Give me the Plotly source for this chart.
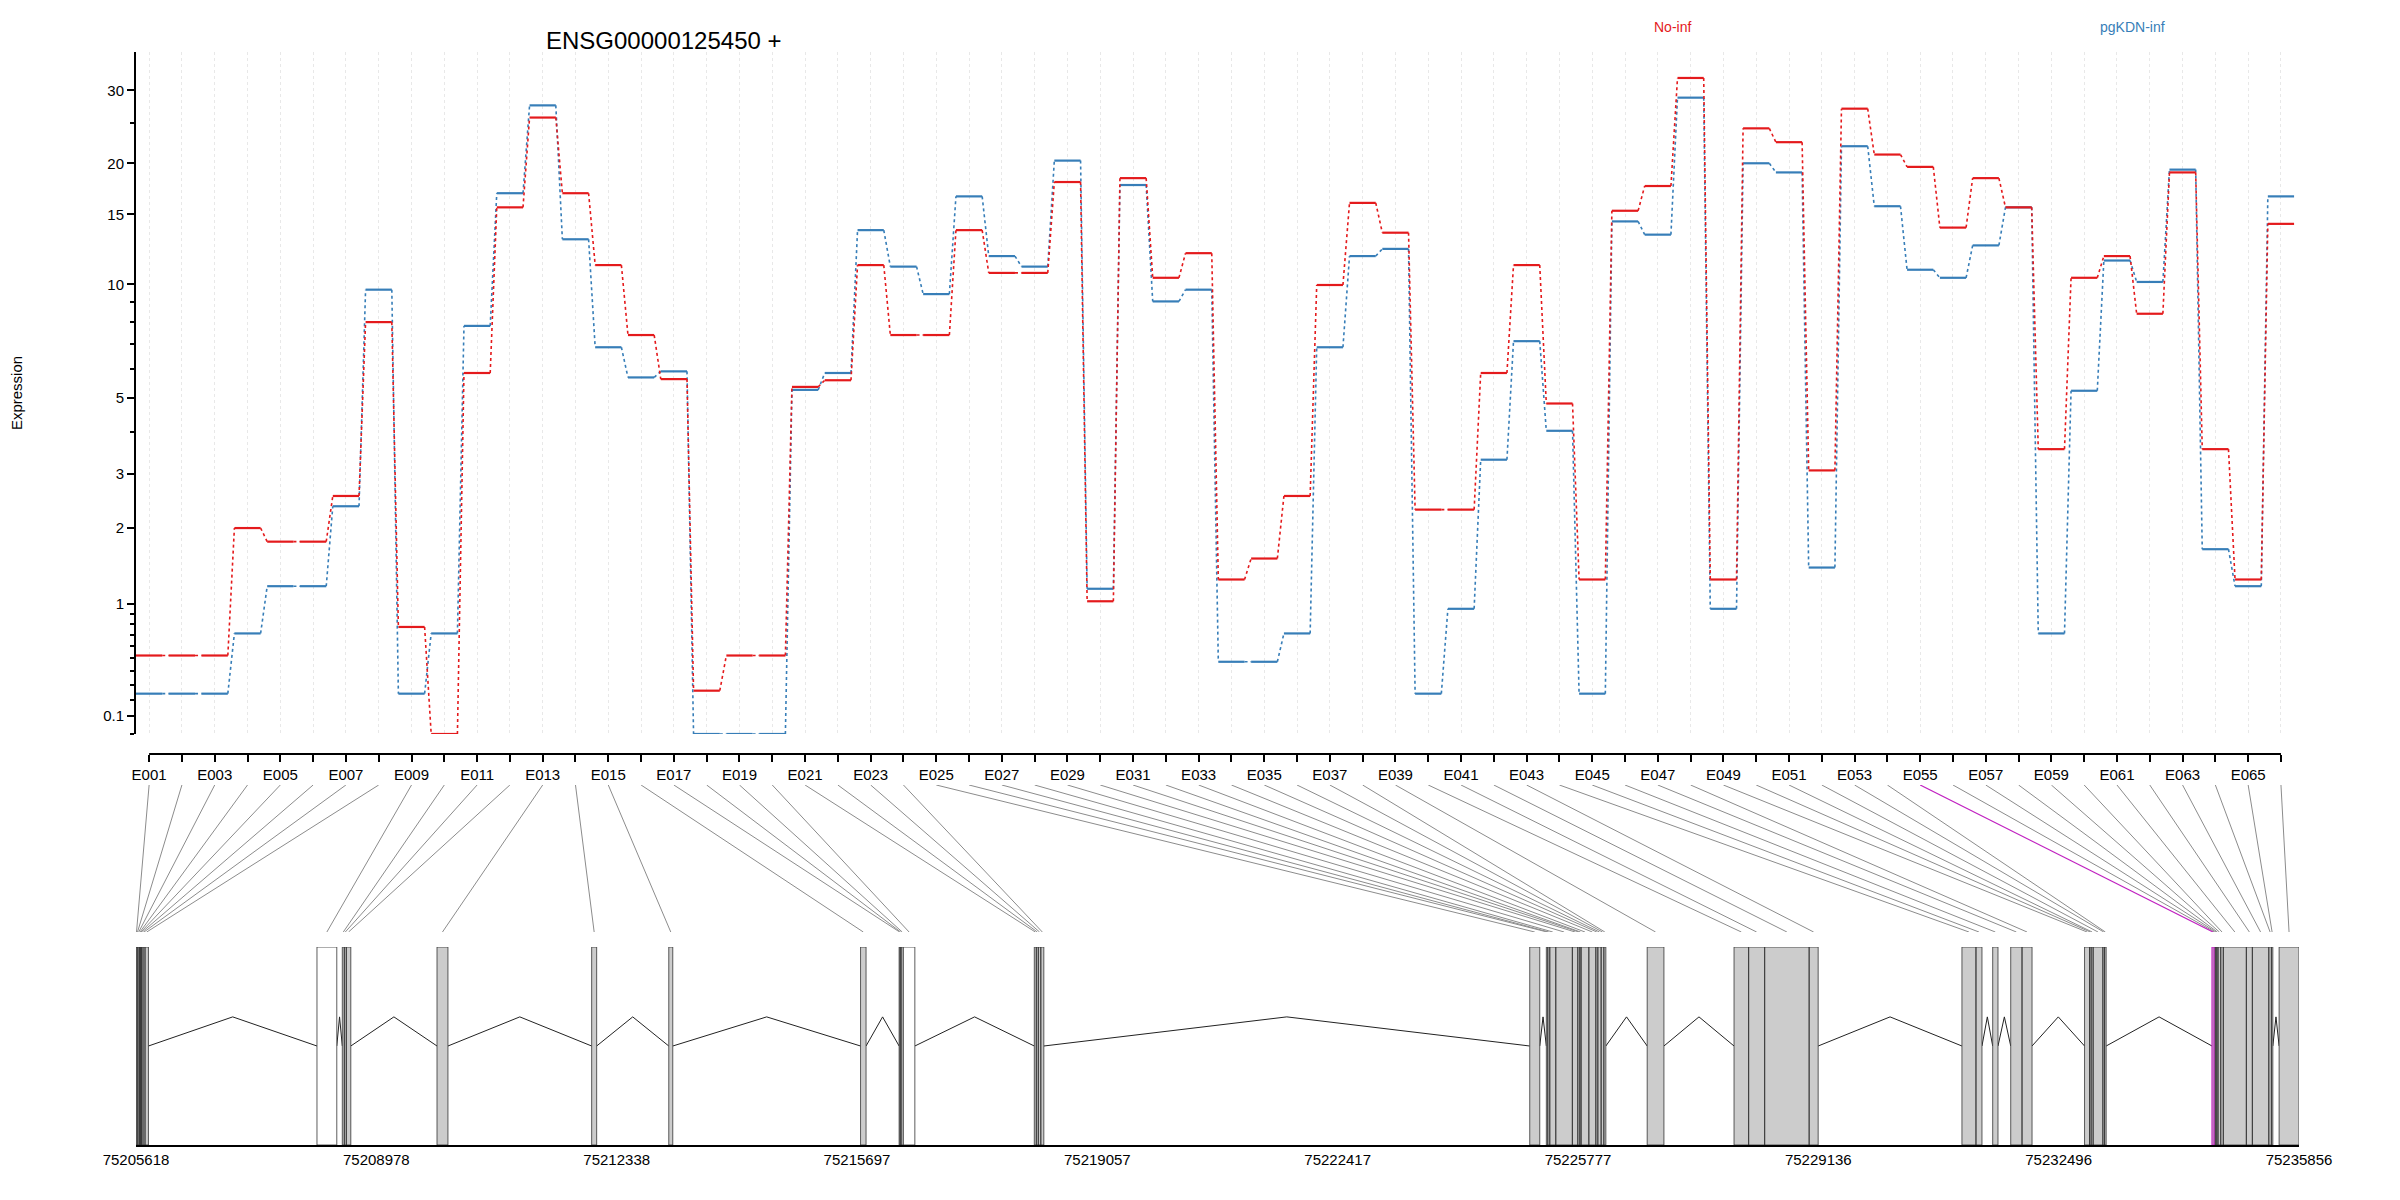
import numpy as np
import plotly.graph_objects as go

# exon ids
exons = ["E%03d" % i for i in range(1, 67)]

# expression per exon (No-inf red, pgKDN-inf blue)
no_inf = [0.52, 0.52, 0.52, 2.0, 1.79, 1.79, 2.56, 8.0, 0.77, 0.0,
          5.86, 15.6, 25.8, 16.9, 11.2, 7.4, 5.64, 0.26, 0.52, 0.52,
          5.37, 5.6, 11.2, 7.4, 7.4, 13.7, 10.7, 10.7, 18.0, 1.03,
          18.4, 10.4, 12.0, 1.28, 1.55, 2.56, 9.97, 16.0, 13.5, 2.31,
          2.31, 5.86, 11.2, 4.83, 1.28, 15.3, 17.6, 32.1, 1.28, 24.3,
          22.5, 3.08, 27.1, 21.0, 19.6, 13.9, 18.4, 15.6, 3.57, 10.4,
          11.8, 8.41, 19.0, 3.57, 1.28, 14.2]
pgkdn_inf = [0.24, 0.24, 0.24, 0.71, 1.2, 1.2, 2.37, 9.7, 0.24, 0.71,
             7.82, 16.9, 27.6, 13.0, 6.87, 5.7, 5.92, 0.0, 0.0, 0.0,
             5.27, 5.86, 13.7, 11.1, 9.45, 16.6, 11.8, 11.1, 20.3, 1.17,
             17.7, 9.05, 9.7, 0.47, 0.47, 0.71, 6.87, 11.8, 12.3, 0.24,
             0.95, 3.32, 7.13, 4.04, 0.24, 14.4, 13.35, 28.8, 0.95, 20.0,
             19.0, 1.43, 22.0, 15.7, 10.9, 10.4, 12.55, 15.6, 0.71, 5.24,
             11.5, 10.15, 19.3, 1.68, 1.2, 16.6]

# genomic exon coordinates
ex_start = [75205618, 75205632, 75205646, 75205667, 75205681, 75205695, 75205716, 75205744,
            75208148, 75208502, 75208530, 75208558, 75209826, 75211988, 75213066, 75215747,
            75216286, 75216300, 75216314, 75216345, 75218176, 75218204, 75218232, 75218267,
            75225102, 75225334, 75225354, 75225382, 75225466, 75225698, 75225774, 75225802,
            75225820, 75225928, 75226026, 75226054, 75226100, 75226138, 75226744, 75227958,
            75228162, 75228386, 75229008, 75231144, 75231340, 75231574, 75231826, 75231984,
            75232858, 75232928, 75232950, 75232978, 75233114, 75233138, 75234640, 75234668,
            75234686, 75234706, 75234724, 75234762, 75234798, 75235120, 75235204, 75235434,
            75235470, 75235578]
ex_end = [75205632, 75205646, 75205667, 75205681, 75205695, 75205716, 75205744, 75205792,
          75208425, 75208530, 75208558, 75208621, 75209979, 75212058, 75213122, 75215824,
          75216300, 75216314, 75216345, 75216506, 75218204, 75218232, 75218267, 75218309,
          75225242, 75225354, 75225382, 75225466, 75225698, 75225774, 75225802, 75225820,
          75225928, 75226026, 75226054, 75226100, 75226138, 75226166, 75226978, 75228162,
          75228386, 75229008, 75229134, 75231340, 75231424, 75231648, 75231984, 75232124,
          75232928, 75232950, 75232978, 75233114, 75233138, 75233160, 75234668, 75234686,
          75234706, 75234724, 75234762, 75234798, 75235120, 75235204, 75235434, 75235470,
          75235490, 75235856]
white_exons = ["E009", "E020"]
sig_exons = ["E055"]

gen_ticks = [75205618, 75208978, 75212338, 75215697, 75219057, 75222417,
             75225777, 75229136, 75232496, 75235856]

RED = "#E41A1C"
BLUE = "#377EB8"
MAG = "#C020C0"

G0, G1 = gen_ticks[0], gen_ticks[-1]
XMIN, XMAX = 0.6, 66.55
idx = np.arange(1, 67)

L, R = 120, 2291
W = R - L


def tr(v):
    return np.log10(np.asarray(v, dtype=float) + 1)


def py(px):
    return 1 - px / 1200


fig = go.Figure()

# expression step lines
for vals, col in [(pgkdn_inf, BLUE), (no_inf, RED)]:
    t = tr(vals)
    sx, sy, cx, cy = [], [], [], []
    for i in range(66):
        sx += [idx[i] - 0.4, idx[i] + 0.4, None]
        sy += [t[i], t[i], None]
        if i < 65:
            cx += [idx[i] + 0.4, idx[i + 1] - 0.4, None]
            cy += [t[i], t[i + 1], None]
    fig.add_trace(go.Scatter(x=cx, y=cy, mode="lines",
                             line=dict(color=col, width=1.6, dash="dot"),
                             hoverinfo="skip"))
    fig.add_trace(go.Scatter(x=sx, y=sy, mode="lines",
                             line=dict(color=col, width=2.2),
                             hoverinfo="skip"))

# connectors from exon labels to genomic position
mid = [(s + e) / 2 for s, e in zip(ex_start, ex_end)]
top_g = [G0 + (i - XMIN) / (XMAX - XMIN) * (G1 - G0) for i in idx]
gx, gy, mx, my = [], [], [], []
for k, name in enumerate(exons):
    if name in sig_exons:
        mx += [top_g[k], mid[k], None]
        my += [1, 0, None]
    else:
        gx += [top_g[k], mid[k], None]
        gy += [1, 0, None]
fig.add_trace(go.Scatter(x=gx, y=gy, xaxis="x3", yaxis="y3", mode="lines",
                         line=dict(color="#8c8c8c", width=1), hoverinfo="skip"))
fig.add_trace(go.Scatter(x=mx, y=my, xaxis="x3", yaxis="y3", mode="lines",
                         line=dict(color=MAG, width=1.2), hoverinfo="skip"))

# introns
ix, iy = [], []
for k in range(65):
    if ex_start[k + 1] > ex_end[k]:
        ix += [ex_end[k], (ex_end[k] + ex_start[k + 1]) / 2, ex_start[k + 1], None]
        iy += [0.5, 0.647, 0.5, None]
fig.add_trace(go.Scatter(x=ix, y=iy, xaxis="x2", yaxis="y2", mode="lines",
                         line=dict(color="#222", width=1), hoverinfo="skip"))

# exon boxes
for group, fill, edge in [("gray", "#cccccc", "#333"), ("white", "white", "#333"),
                          ("sig", "#cccccc", MAG)]:
    bx, by = [], []
    for k, name in enumerate(exons):
        g = "sig" if name in sig_exons else ("white" if name in white_exons else "gray")
        if g != group:
            continue
        s, e = ex_start[k], ex_end[k]
        bx += [s, e, e, s, s, None]
        by += [0, 0, 1, 1, 0, None]
    fig.add_trace(go.Scatter(x=bx, y=by, xaxis="x2", yaxis="y2", mode="lines",
                             fill="toself", fillcolor=fill,
                             line=dict(color=edge, width=1.2 if group == "sig" else 0.8),
                             hoverinfo="skip"))

ytick_v = [0.1, 1, 2, 3, 5, 10, 15, 20, 30]
yminor_v = [0, 0.2, 0.3, 0.4, 0.5, 0.6, 0.7, 0.8, 0.9, 4, 6, 7, 8, 9, 25]

font = "Liberation Sans, Arial, sans-serif"
fig.update_layout(
    width=2400, height=1200,
    margin=dict(l=L, r=2400 - R, t=0, b=0),
    paper_bgcolor="white", plot_bgcolor="white",
    showlegend=False,
    font=dict(family=font, size=15, color="black"),
    xaxis=dict(range=[XMIN, XMAX], anchor="free", position=py(746),
               tickvals=list(idx),
               ticktext=[n if i % 2 == 0 else "" for i, n in enumerate(exons)],
               ticks="outside", ticklen=7, tickwidth=1.5, tickcolor="black",
               showline=False, zeroline=False,
               showgrid=True, gridcolor="#e8e8e8", griddash="dot", gridwidth=1,
               tickfont=dict(size=15)),
    yaxis=dict(domain=[py(726), py(44)], range=[0, 1.58],
               tickvals=list(tr(ytick_v)), ticktext=[str(v) for v in ytick_v],
               ticks="outside", ticklen=7, tickwidth=1.5, tickcolor="black",
               minor=dict(tickvals=list(tr(yminor_v)), ticks="outside", ticklen=4,
                          tickcolor="black", showgrid=False),
               showline=True, linecolor="black", linewidth=2,
               showgrid=False, zeroline=False, tickfont=dict(size=15),
               title=dict(text="Expression", standoff=85, font=dict(size=15))),
    xaxis2=dict(range=[G0, G1], anchor="y2", tickvals=gen_ticks,
                ticktext=[str(v) for v in gen_ticks], ticks="",
                showline=True, linecolor="black", linewidth=2,
                showgrid=False, zeroline=False, tickfont=dict(size=15)),
    yaxis2=dict(domain=[py(1137), py(939)], range=[0, 1], visible=False),
    xaxis3=dict(matches="x2", anchor="y3", visible=False),
    yaxis3=dict(domain=[py(924), py(777)], range=[0, 1], visible=False),
)

# top x-axis line spanning the exons only
fig.add_shape(type="line", xref="x", yref="paper", x0=1, x1=66,
              y0=py(746), y1=py(746), line=dict(color="black", width=2))

fig.add_annotation(text="ENSG00000125450 +", xref="paper", yref="paper",
                   x=(650 - L) / W, y=py(17), showarrow=False, xanchor="center",
                   font=dict(size=24))
fig.add_annotation(text="No-inf", xref="paper", yref="paper",
                   x=(1662 - L) / W, y=py(9), showarrow=False, xanchor="center",
                   font=dict(size=14, color=RED))
fig.add_annotation(text="pgKDN-inf", xref="paper", yref="paper",
                   x=(2124 - L) / W, y=py(9), showarrow=False, xanchor="center",
                   font=dict(size=14, color=BLUE))

fig.write_html("out.html")
